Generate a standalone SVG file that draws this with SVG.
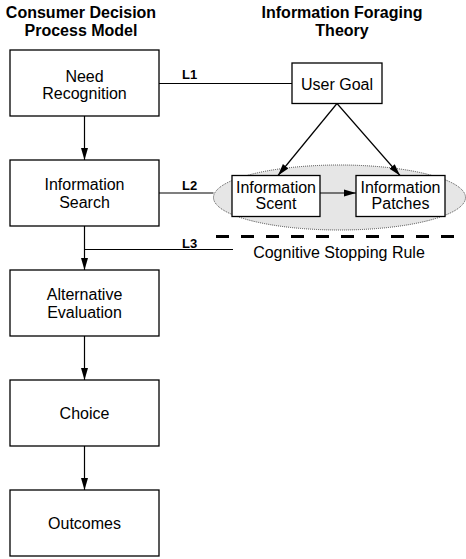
<svg xmlns="http://www.w3.org/2000/svg" width="466" height="559" viewBox="0 0 466 559">
<style>
.box{fill:#fff;stroke:#000;stroke-width:1.3}
.t{font-family:"Liberation Sans",Arial,sans-serif;font-size:16px;fill:#000;text-anchor:middle}
.h{font-family:"Liberation Sans",Arial,sans-serif;font-size:16px;font-weight:bold;fill:#000;text-anchor:middle}
.l{font-family:"Liberation Sans",Arial,sans-serif;font-size:13px;font-weight:bold;fill:#000}
.c{stroke:#000;stroke-width:1.2;fill:none}
.a{stroke:#000;stroke-width:1.2;fill:none;marker-end:url(#arr)}
</style>
<defs>
<marker id="arr" markerUnits="userSpaceOnUse" markerWidth="12" markerHeight="10" viewBox="0 0 12 10" refX="12" refY="5" orient="auto">
<path d="M0,1.5 L12,5 L0,8.5 Z" fill="#000"/>
</marker>
</defs>
<g id="titles">
<text class="h" x="81" y="17.5">Consumer Decision</text>
<text class="h" x="81" y="36">Process Model</text>
<text class="h" x="342" y="17.5">Information Foraging</text>
<text class="h" x="342" y="36">Theory</text>
</g>
<g id="scent-area">
<ellipse cx="339.5" cy="197.5" rx="126" ry="32.5" fill="#e6e6e6" stroke="#444" stroke-width="1" stroke-dasharray="1 1"/>
</g>
<g id="connectors">
<line class="c" x1="159" y1="83.5" x2="292" y2="83.5"/>
<line class="c" x1="159" y1="193" x2="213.5" y2="193"/>
<line class="c" x1="84.5" y1="249.5" x2="233" y2="249.5"/>
<line class="a" x1="84.5" y1="116" x2="84.5" y2="160"/>
<line class="a" x1="84.5" y1="226" x2="84.5" y2="270"/>
<line class="a" x1="84.5" y1="336" x2="84.5" y2="380"/>
<line class="a" x1="84.5" y1="446" x2="84.5" y2="490"/>
<line class="a" x1="320" y1="193" x2="356" y2="193"/>
<line class="a" x1="337" y1="103.5" x2="278" y2="175.5"/>
<line class="a" x1="337" y1="103.5" x2="400" y2="175.5"/>
<line x1="216" y1="236.5" x2="466" y2="236.5" stroke="#000" stroke-width="3" stroke-dasharray="13 12"/>
<text class="l" x="182" y="79">L1</text>
<text class="l" x="182" y="189.5">L2</text>
<text class="l" x="182" y="248">L3</text>
</g>
<g id="need-recognition">
<rect class="box" x="10" y="50" width="149" height="66"/>
<text class="t" x="84.5" y="81.5">Need</text>
<text class="t" x="84.5" y="98.5">Recognition</text>
</g>
<g id="information-search">
<rect class="box" x="10" y="160" width="149" height="66"/>
<text class="t" x="84.5" y="190">Information</text>
<text class="t" x="84.5" y="207.5">Search</text>
</g>
<g id="alternative-evaluation">
<rect class="box" x="10" y="270" width="149" height="66"/>
<text class="t" x="84.5" y="300">Alternative</text>
<text class="t" x="84.5" y="317.5">Evaluation</text>
</g>
<g id="choice">
<rect class="box" x="10" y="380" width="149" height="66"/>
<text class="t" x="84.5" y="419">Choice</text>
</g>
<g id="outcomes">
<rect class="box" x="10" y="490" width="149" height="66"/>
<text class="t" x="84.5" y="529">Outcomes</text>
</g>
<g id="user-goal">
<rect class="box" x="292" y="63" width="90" height="40.5"/>
<text class="t" x="337" y="89.5">User Goal</text>
</g>
<g id="information-scent">
<rect class="box" x="232" y="175.5" width="88" height="41"/>
<text class="t" x="276" y="193">Information</text>
<text class="t" x="276" y="208.5">Scent</text>
</g>
<g id="information-patches">
<rect class="box" x="356" y="175.5" width="89" height="41"/>
<text class="t" x="400.5" y="193">Information</text>
<text class="t" x="400.5" y="208.5">Patches</text>
</g>
<g id="stopping-rule">
<text class="t" x="339" y="258">Cognitive Stopping Rule</text>
</g>
</svg>
